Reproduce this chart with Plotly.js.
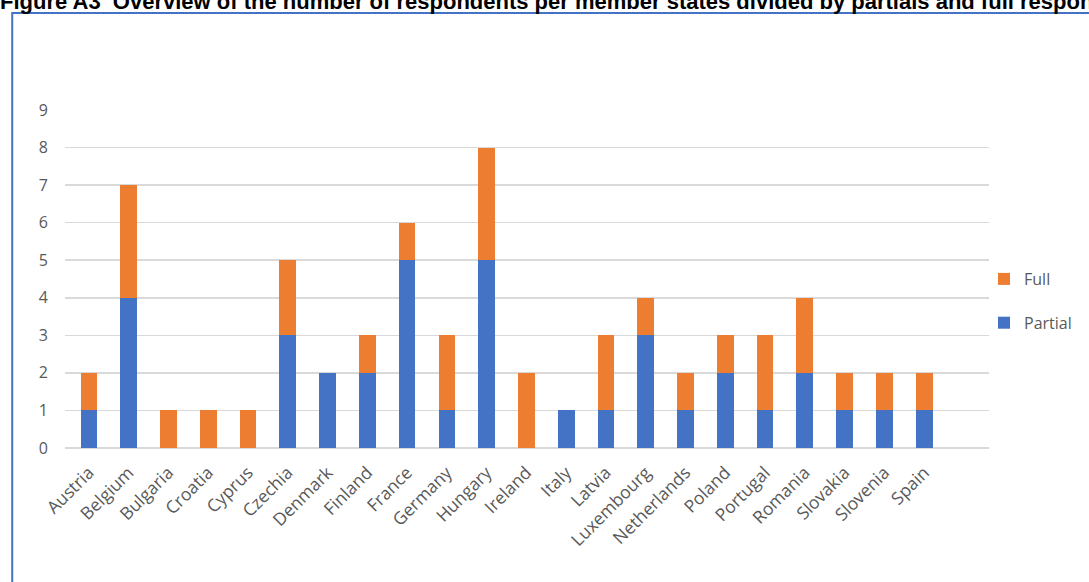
<!DOCTYPE html>
<html><head><meta charset="utf-8">
<script src="https://cdn.plot.ly/plotly-3.0.1.min.js"></script>
<style>html,body{margin:0;padding:0;background:#fff;overflow:hidden}#chart{width:1089px;height:582px}</style>
</head><body><div id="chart"></div>
<script>
const countries = ["Austria","Belgium","Bulgaria","Croatia","Cyprus","Czechia","Denmark","Finland","France","Germany","Hungary","Ireland","Italy","Latvia","Luxembourg","Netherlands","Poland","Portugal","Romania","Slovakia","Slovenia","Spain"];
const partial = [1,4,0,0,0,3,2,2,5,1,5,0,1,1,3,1,2,1,2,1,1,1];
const full    = [1,3,1,1,1,2,0,1,1,2,3,2,0,2,1,1,1,2,2,1,1,1];
const yTicks = [0,1,2,3,4,5,6,7,8,9];
const titleText = "Figure A3  Overview of the number of respondents per member states divided by partials and full responses";

const L=65, R=993, T=110, B=448;
const pw=R-L, ph=B-T;
const px = v => (v-L)/pw;
const py = v => (B-v)/ph;

const traces = [
  {type:'bar', name:'Partial', legendgroup:'p', legendrank:2, x:countries, y:partial, marker:{color:'#4472c4'}},
  {type:'bar', name:'Full', legendgroup:'f', legendrank:1, x:countries, y:full, marker:{color:'#ed7d31'}}
];
const layout = {
  width:1089, height:582,
  margin:{l:L, r:1089-R, t:T, b:582-B, pad:0},
  paper_bgcolor:'#fff', plot_bgcolor:'#fff',
  barmode:'stack', bargap:0.58,
  showlegend:true,
  legend:{x:px(988), xanchor:'left', y:py(301), yanchor:'middle', traceorder:'grouped', tracegroupgap:20,
    font:{family:'Open Sans, sans-serif', size:16, color:'#595959'}, itemwidth:30, bgcolor:'rgba(0,0,0,0)'},
  title:{text:'<b>'+titleText+'</b>', xref:'container', yref:'container', x:0, xanchor:'left', y:1-1/582, yanchor:'middle',
    font:{family:'Liberation Sans, Arial, sans-serif', size:22, color:'#000'}, pad:{l:0,t:0,b:0,r:0}},
  xaxis:{type:'category', range:[-0.6, 22.63], tickangle:-45, showgrid:false, zeroline:false, showline:false, ticks:'',
    ticklabelstandoff:10,
    tickfont:{family:'Open Sans, sans-serif', size:17.5, color:'#595959'}, automargin:false},
  yaxis:{range:[0,9], tickvals:yTicks, showgrid:true, gridcolor:'#d9d9d9', gridwidth:1.5, zeroline:true, zerolinecolor:'#d9d9d9', zerolinewidth:1.5,
    showline:false, ticks:'', ticklabelstandoff:16,
    tickfont:{family:'Open Sans, sans-serif', size:16, color:'#595959'}, automargin:false},
  shapes:[
    {type:'rect', xref:'paper', yref:'paper', x0:px(12), x1:px(1120), y0:py(620), y1:py(13), line:{color:'#4472c4', width:2}, fillcolor:'rgba(0,0,0,0)', layer:'below'}
  ]
};
Plotly.newPlot('chart', traces, layout, {displayModeBar:false, staticPlot:true});
</script></body></html>
